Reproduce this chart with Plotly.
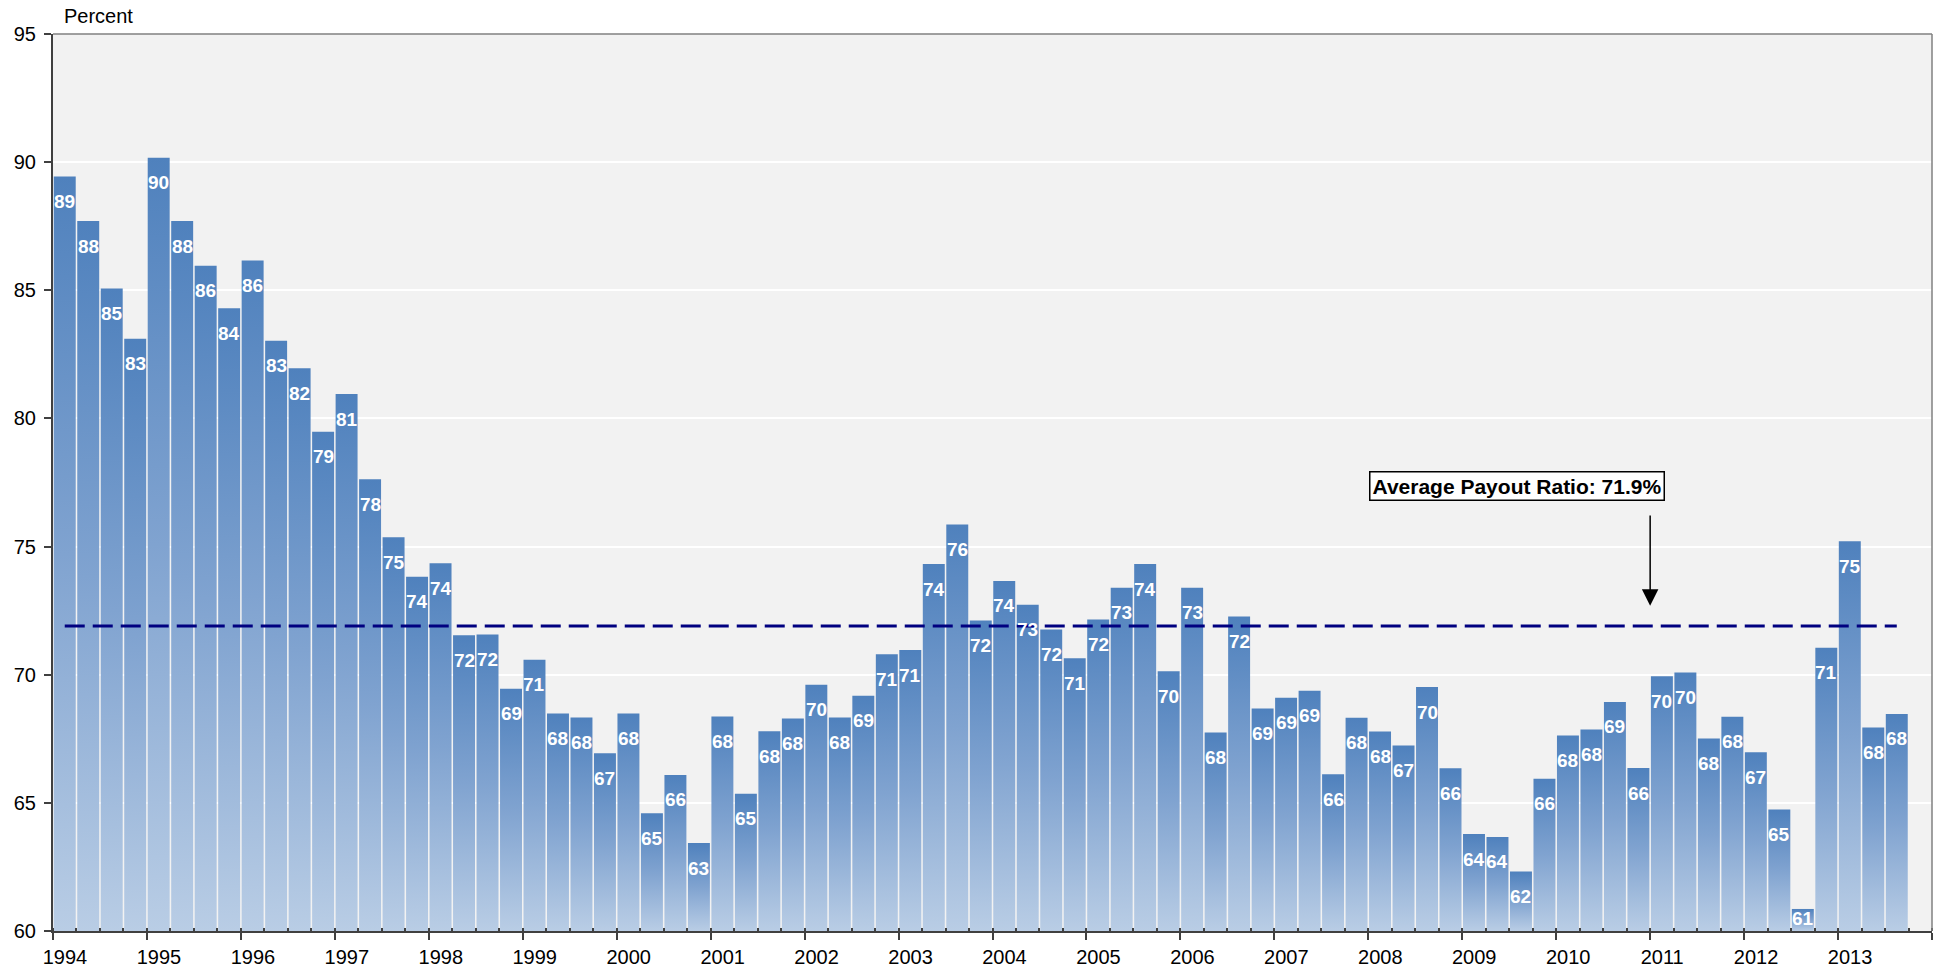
import plotly.graph_objects as go

# quarterly payout ratio, 1994 Q1 .. 2013 Q3
start_year = 1994
end_year = 2014
payout = [
    89.44, 87.70, 85.07, 83.11,   # 1994
    90.17, 87.70, 85.96, 84.30,   # 1995
    86.16, 83.03, 81.96, 79.48,   # 1996
    80.95, 77.63, 75.36, 73.82,   # 1997
    74.35, 71.54, 71.57, 69.45,   # 1998
    70.58, 68.49, 68.33, 66.94,   # 1999
    68.49, 64.59, 66.09, 63.43,   # 2000
    68.37, 65.36, 67.79, 68.29,   # 2001
    69.61, 68.33, 69.18, 70.80,   # 2002
    70.96, 74.32, 75.86, 72.12,   # 2003
    73.66, 72.73, 71.76, 70.64,   # 2004
    72.15, 73.39, 74.32, 70.14,   # 2005
    73.39, 67.75, 72.27, 68.68,   # 2006
    69.10, 69.37, 66.12, 68.32,   # 2007
    67.78, 67.24, 69.52, 66.35,   # 2008
    63.78, 63.67, 62.32, 65.94,   # 2009
    67.63, 67.86, 68.94, 66.36,   # 2010
    69.94, 70.09, 67.51, 68.36,   # 2011
    66.97, 64.74, 60.86, 71.05,   # 2012
    75.21, 67.94, 68.47,          # 2013
]
average = 71.9
years = list(range(start_year, end_year + 1))
year_labels = [str(y) for y in years[:-1]] + [""]

y_min, y_max = 60, 95
font = "Arial, Liberation Sans, sans-serif"

# bar centre of each quarter on a numeric year axis
x_centres = [start_year + (i + 0.5) / 4 for i in range(len(payout))]
half_w = 0.25 * 0.935 / 2

fig = go.Figure()

# bars as filled rectangles so each one gets its own vertical gradient
for xc, v in zip(x_centres, payout):
    fig.add_trace(go.Scatter(
        x=[xc - half_w, xc + half_w, xc + half_w, xc - half_w, xc - half_w],
        y=[y_min, y_min, v, v, y_min],
        mode="lines",
        fill="toself",
        line=dict(width=0, color="rgba(0,0,0,0)"),
        fillgradient=dict(
            type="vertical",
            colorscale=[[0, "#b9cde5"], [0.5, "#80a3d0"], [1, "#4f81bd"]],
        ),
        hoverinfo="skip",
        showlegend=False,
    ))

# average line
fig.add_trace(go.Scatter(
    x=[x_centres[0], x_centres[-1]],
    y=[average, average],
    mode="lines",
    line=dict(color="#000080", width=3, dash="20px,8px"),
    hoverinfo="skip",
    showlegend=False,
))

# value labels inside the top of each bar
plot_h = 908
px_per_unit = plot_h / (y_max - y_min)
for xc, v in zip(x_centres, payout):
    bar_px = (v - y_min) * px_per_unit
    offset = min(25, max(9, bar_px - 13))
    fig.add_annotation(
        x=xc, y=v, yshift=-offset, text=f"{v:.0f}", showarrow=False,
        yanchor="middle",
        font=dict(family=font, size=19, color="white", weight="bold"),
    )

# average payout box and arrow
fig.add_annotation(
    x=2009.585, y=77.37, text="Average Payout Ratio: 71.9%", showarrow=False,
    bgcolor="white", bordercolor="black", borderwidth=1.5, borderpad=2,
    font=dict(family=font, size=21, color="black", weight="bold"),
)
fig.add_annotation(
    x=2011.0, y=72.69, ax=2011.0, ay=76.27, axref="x", ayref="y",
    text="", showarrow=True, arrowhead=2, arrowsize=2.2, arrowwidth=1.5,
    arrowcolor="black",
)

fig.add_annotation(
    xref="paper", yref="paper", x=0.005, y=1.02, xanchor="left", yanchor="middle",
    text="Percent", showarrow=False, font=dict(family=font, size=20, color="black"),
)

# grey top/right frame
fig.add_shape(type="line", xref="paper", yref="paper", x0=0, x1=1, y0=1, y1=1,
              line=dict(color="#808080", width=1.5))
fig.add_shape(type="line", xref="paper", yref="paper", x0=1, x1=1, y0=0, y1=1,
              line=dict(color="#808080", width=1.5))

fig.update_layout(
    width=1946,
    height=980,
    margin=dict(l=53, r=14, t=34, b=980 - 34 - plot_h),
    paper_bgcolor="white",
    plot_bgcolor="#f2f2f2",
    font=dict(family=font, size=20, color="black"),
    showlegend=False,
    xaxis=dict(
        range=[start_year, end_year],
        tickvals=years,
        ticktext=year_labels,
        ticklabelshift=12,
        ticks="outside",
        ticklen=7,
        tickwidth=1.5,
        tickcolor="#404040",
        minor=dict(dtick=0.25, tick0=start_year, ticks="inside", ticklen=3,
                   tickcolor="#404040", showgrid=False),
        showgrid=False,
        zeroline=False,
        showline=True,
        linecolor="#404040",
        linewidth=2,
        tickfont=dict(size=20),
    ),
    yaxis=dict(
        range=[y_min, y_max],
        dtick=5,
        ticks="outside",
        ticklen=7,
        tickwidth=1.5,
        tickcolor="#404040",
        ticklabelstandoff=4,
        showgrid=True,
        gridcolor="white",
        gridwidth=2,
        zeroline=False,
        showline=True,
        linecolor="#404040",
        linewidth=2,
        tickfont=dict(size=20),
    ),
)

# drop the default 8px body margin so the figure fills the window exactly
fig.write_html(
    "out.html",
    config={"displayModeBar": False},
    post_script="document.body.style.margin = '0';",
)
